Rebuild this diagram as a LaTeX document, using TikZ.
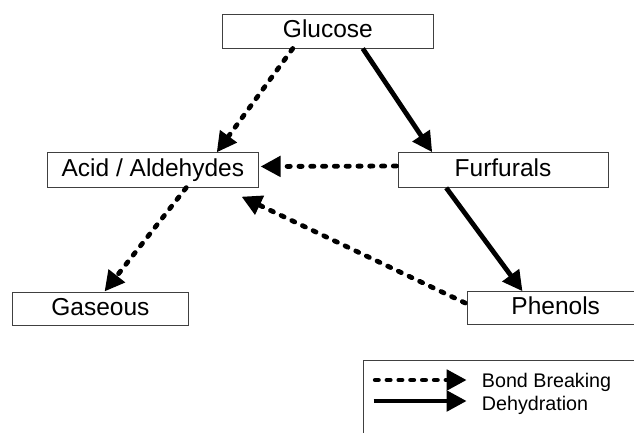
\documentclass[tikz,border=0pt]{standalone}
\usepackage{fontspec}
\setmainfont{Liberation Sans}
\usetikzlibrary{arrows.meta,calc}
\begin{document}
\begin{tikzpicture}[x=1pt,y=-1pt,
  box/.style={draw=black!75,line width=1pt,inner sep=0pt,
    text height=13.5pt,text depth=0pt,font=\fontsize{24.5}{28}\selectfont},
  legtext/.style={anchor=base west,inner sep=0pt,font=\fontsize{19.7}{22}\selectfont},
  brk/.style={line width=4.8pt,dash pattern=on 3.2pt off 8.6pt,line cap=round,
    -{Triangle[length=20pt,width=20pt]}},
  dehy/.style={line width=4.8pt,-{Triangle[length=20pt,width=20pt]}}]
\useasboundingbox (0,0) rectangle (634,432);
\clip (0,0) rectangle (634,432);

\node[box,minimum width=210.3pt,minimum height=34pt] (glu) at (327.9,31) {Glucose};
\node[box,minimum width=210.3pt,minimum height=34.3pt] (acid) at (152.9,170) {Acid / Aldehydes};
\node[box,minimum width=210pt,minimum height=34.6pt] (fur) at (503,170) {Furfurals};
\node[box,minimum width=175.3pt,minimum height=33pt] (gas) at (100.4,308.5) {Gaseous};
\node[box,minimum width=176pt,minimum height=32.5pt] (phe) at (555.7,308) {Phenols};

% connectors
\draw[brk] ($(glu.south west)+(70.5,0)$) -- ($(acid.north west)+(169.5,0)$);
\draw[dehy] ($(glu.south west)+(140.5,0)$) -- ($(fur.north west)+(34.7,0)$);
\draw[brk] ($(fur.west)+(-1,-4)$) -- ($(acid.east)+(2,-3.5)$);
\draw[brk] ($(acid.south west)+(139,0)$) -- ($(gas.north west)+(92.3,0)$);
\draw[dehy] ($(fur.south west)+(48.7,0)$) -- ($(phe.north west)+(55.3,0)$);
\draw[brk] ($(phe.west)+(-2,-5)$) -- ($(acid.south east)+(-17,9)$);

% legend
\node[draw=black!75,line width=1pt,anchor=north west,minimum width=320pt,minimum height=120pt,inner sep=0pt] (leg) at (362.7,360) {};
\coordinate (d1) at ($(leg.north west)+(12.5,20)$);
\coordinate (d2) at ($(leg.north west)+(104,20)$);
\coordinate (s1) at ($(leg.north west)+(11,41)$);
\coordinate (s2) at ($(leg.north west)+(104,41)$);
\draw[brk] (d1) -- (d2);
\draw[dehy] (s1) -- (s2);
\node[legtext] (lb) at ($(leg.north west)+(119,27)$) {Bond Breaking};
\node[legtext] (ld) at ($(leg.north west)+(119,50)$) {Dehydration};
\end{tikzpicture}
\end{document}
